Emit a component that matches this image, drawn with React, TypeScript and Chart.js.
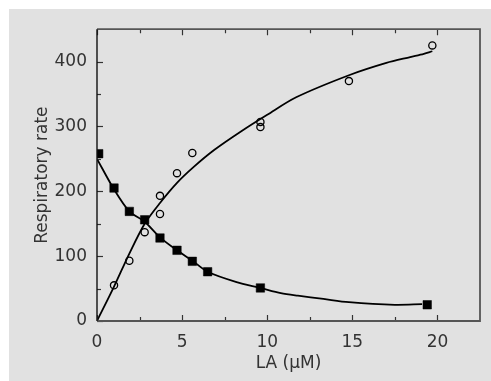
import { useEffect, useRef } from "react";
import { Chart, registerables } from "chart.js";

Chart.register(...registerables);

// Axis ticks
const xMajorTicks = [0, 5, 10, 15, 20];
const xMinorTicks = [2.5, 7.5, 12.5, 17.5];
const yMajorTicks = [0, 100, 200, 300, 400];
const yMinorTicks = [50, 150, 250, 350];

// Inhibited respiration (filled squares)
const squareLA = [0.1, 1.0, 1.9, 2.8, 3.7, 4.7, 5.6, 6.5, 9.6, 19.4];
const squareRate = [258, 205, 169, 156, 128, 109, 92, 76, 51, 25];

// Stimulated respiration (open circles)
const circleLA = [1.0, 1.9, 2.8, 3.7, 3.7, 4.7, 5.6, 9.6, 9.6, 14.8, 19.7];
const circleRate = [55, 93, 137, 193, 165, 228, 259, 307, 299, 370, 425];

// Fitted curves
const riseLA = [0, 1, 1.9, 2.8, 3.7, 4.7, 5.7, 6.9, 8.5, 10, 11.7, 14.8, 17, 18.4, 19.2, 19.7];
const riseRate = [0, 53, 104, 150, 182, 213, 238, 264, 293, 318, 345, 379, 398, 407, 412, 416];

const fallLA = [0, 1, 1.9, 2.8, 3.7, 4.7, 5.6, 6.5, 8.2, 9.6, 10.8, 11.8, 13.3, 14.8, 17.5, 19.1];
const fallRate = [250, 203, 169, 153, 129, 109, 93, 76, 60, 51, 43, 39, 34, 29, 25, 26];

const pts = (xs: number[], ys: number[]) => xs.map((x, i) => ({ x, y: ys[i] }));

const BG = "#e1e1e1";
const TEXT = "#333333";
const FONT = "'DejaVu Sans', sans-serif";

// Draws the plot frame and the inward-pointing tick marks
const framePlugin = {
  id: "frame",
  afterDatasetsDraw(chart: any) {
    const { ctx, chartArea: a, scales } = chart;
    const xs = scales.x;
    const ys = scales.y;
    ctx.save();
    ctx.lineCap = "butt";

    // tick marks
    ctx.strokeStyle = "#333";
    ctx.lineWidth = 1.2;
    const tickX = (v: number, len: number) => {
      const px = Math.round(xs.getPixelForValue(v)) + 0.5;
      ctx.beginPath();
      ctx.moveTo(px, a.bottom);
      ctx.lineTo(px, a.bottom - len);
      ctx.moveTo(px, a.top);
      ctx.lineTo(px, a.top + len);
      ctx.stroke();
    };
    xMajorTicks.forEach((v) => tickX(v, 6));
    xMinorTicks.forEach((v) => tickX(v, 4));
    const tickY = (v: number, len: number) => {
      const py = Math.round(ys.getPixelForValue(v)) + 0.5;
      ctx.beginPath();
      ctx.moveTo(a.left, py);
      ctx.lineTo(a.left + len, py);
      ctx.stroke();
    };
    yMajorTicks.forEach((v) => tickY(v, 6));
    yMinorTicks.forEach((v) => tickY(v, 4));

    // frame
    ctx.strokeStyle = "#555";
    ctx.lineWidth = 1.8;
    ctx.beginPath();
    ctx.moveTo(a.left, a.top);
    ctx.lineTo(a.right, a.top);
    ctx.lineTo(a.right, a.bottom);
    ctx.lineTo(a.left, a.bottom);
    ctx.stroke();
    ctx.strokeStyle = "#111";
    ctx.lineWidth = 1.4;
    ctx.beginPath();
    ctx.moveTo(a.left, a.top);
    ctx.lineTo(a.left, a.bottom);
    ctx.stroke();
    ctx.restore();
  },
};

export default function App() {
  const canvasRef = useRef<HTMLCanvasElement | null>(null);

  useEffect(() => {
    const canvas = canvasRef.current;
    if (!canvas) return;
    const chart = new Chart(canvas, {
      type: "scatter",
      data: {
        datasets: [
          {
            label: "inhibited",
            data: pts(squareLA, squareRate),
            pointStyle: "rect",
            pointRadius: 6,
            backgroundColor: "#000",
            borderColor: "#000",
            borderWidth: 0.5,
            showLine: false,
          },
          {
            label: "stimulated",
            data: pts(circleLA, circleRate),
            pointStyle: "circle",
            pointRadius: 3.6,
            backgroundColor: "rgba(0,0,0,0)",
            borderColor: "#000",
            borderWidth: 1.3,
            showLine: false,
          },
          {
            label: "rise fit",
            data: pts(riseLA, riseRate),
            showLine: true,
            pointRadius: 0,
            borderColor: "#000",
            borderWidth: 1.8,
            tension: 0.3,
          },
          {
            label: "fall fit",
            data: pts(fallLA, fallRate),
            showLine: true,
            pointRadius: 0,
            borderColor: "#000",
            borderWidth: 1.8,
            tension: 0.3,
          },
        ],
      },
      options: {
        animation: false,
        responsive: false,
        devicePixelRatio: 1,
        layout: { padding: { top: 20, right: 11, left: 0, bottom: 0 } },
        plugins: {
          legend: { display: false },
          tooltip: { enabled: false },
        },
        scales: {
          x: {
            type: "linear",
            min: 0,
            max: 22.5,
            grid: { display: false, drawTicks: false },
            border: { display: false },
            afterBuildTicks: (s: any) => {
              s.ticks = xMajorTicks.map((v) => ({ value: v }));
            },
            afterFit: (s: any) => {
              s.height = 60;
            },
            ticks: {
              color: TEXT,
              padding: 11,
              maxRotation: 0,
              font: { family: FONT, size: 17 },
            },
            title: {
              display: true,
              text: "LA (µM)",
              color: TEXT,
              padding: { top: 0, bottom: 7 },
              font: { family: FONT, size: 17 },
            },
          },
          y: {
            type: "linear",
            min: 0,
            max: 450,
            grid: { display: false, drawTicks: false },
            border: { display: false },
            afterBuildTicks: (s: any) => {
              s.ticks = yMajorTicks.map((v) => ({ value: v }));
            },
            afterFit: (s: any) => {
              s.width = 88;
            },
            ticks: {
              color: TEXT,
              padding: 10,
              font: { family: FONT, size: 17 },
            },
            title: {
              display: true,
              text: "Respiratory rate",
              color: TEXT,
              padding: { top: 23, bottom: 0 },
              font: { family: FONT, size: 17 },
            },
          },
        },
      },
      plugins: [framePlugin],
    });
    return () => chart.destroy();
  }, []);

  return (
    <div
      style={{
        position: "absolute",
        left: 9,
        top: 9,
        width: 482,
        height: 372,
        background: BG,
      }}
    >
      <canvas ref={canvasRef} width={482} height={372} style={{ display: "block" }} />
    </div>
  );
}
